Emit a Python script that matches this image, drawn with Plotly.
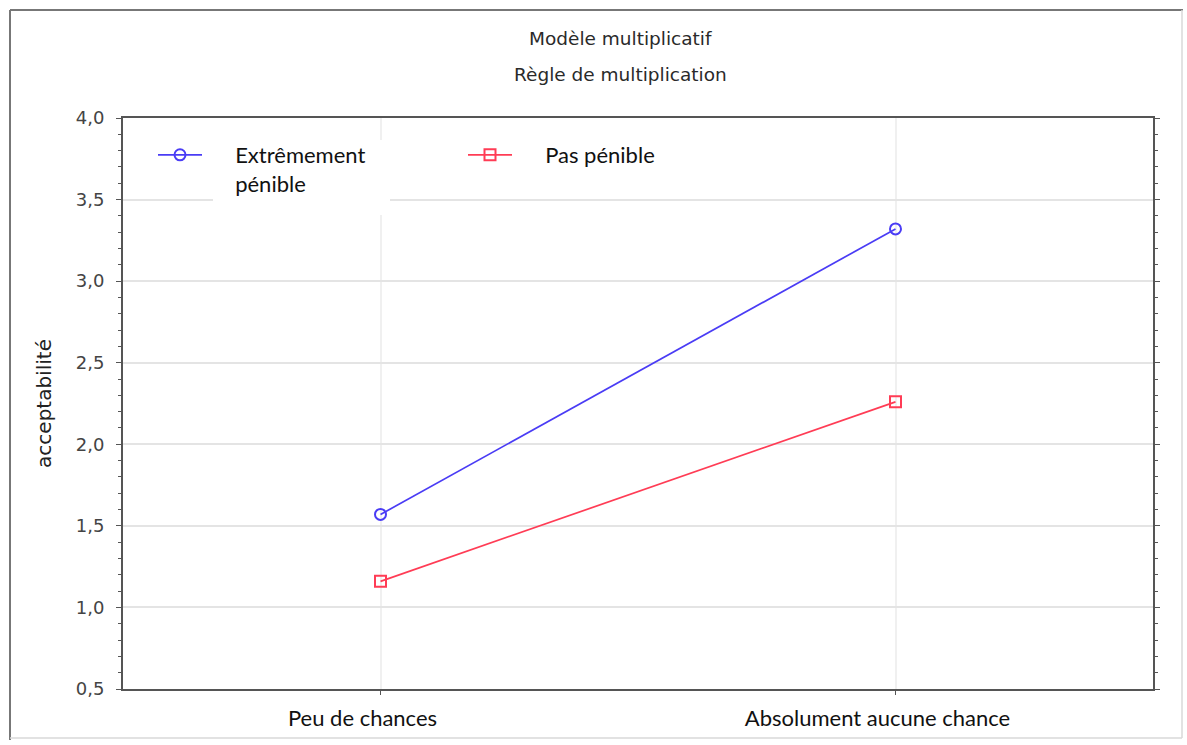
import plotly.graph_objects as go

categories = ["Peu de chances", "Absolument aucune chance"]
series_names = ["Extrêmement<br>pénible", "Pas pénible"]
extremement = [1.57, 3.32]
pas_penible = [1.16, 2.26]
y_ticks = [0.5, 1.0, 1.5, 2.0, 2.5, 3.0, 3.5, 4.0]

W, H = 1187, 745
L, R, T, B = 123, 1153, 118, 689

def px(x):
    return (x - L) / (R - L)

def py(y):
    return (B - y) / (B - T)

NB = "\u00a0" * 5

def pad(name):
    return "<br>".join(NB + part for part in name.split("<br>"))

fig = go.Figure()
fig.add_trace(go.Scatter(
    x=categories, y=extremement, name=pad(series_names[0]), mode="lines+markers",
    line=dict(color="#4a3cf5", width=1.7),
    marker=dict(symbol="circle-open", size=11, color="#4a3cf5", line=dict(width=2)),
))
fig.add_trace(go.Scatter(
    x=categories, y=pas_penible, name=pad(series_names[1]), mode="lines+markers",
    line=dict(color="#ff3c55", width=1.7),
    marker=dict(symbol="square-open", size=11, color="#ff3c55", line=dict(width=2)),
))

axis_line = "#555555"
sans = "DejaVu Sans, Liberation Sans, Arial, sans-serif"
cal = "Lato, sans-serif"
fig.update_layout(
    width=W, height=H,
    margin=dict(l=L, r=W - R, t=T, b=H - B),
    paper_bgcolor="white", plot_bgcolor="white",
    separators=", ",
    showlegend=True,
    legend=dict(
        orientation="h", x=px(153), y=py(134), xanchor="left", yanchor="top",
        bgcolor="rgba(0,0,0,0)", font=dict(family=cal, size=22, color="#111"),
        entrywidth=251, entrywidthmode="pixels", itemwidth=44, valign="top",
    ),
    xaxis=dict(
        type="category", range=[-0.5, 1.5],
        showline=True, linecolor=axis_line, linewidth=2, mirror=True,
        showgrid=True, gridcolor="#f0f0f0", gridwidth=2,
        ticks="outside", ticklen=4, tickcolor=axis_line,
        tickfont=dict(family=cal, size=22, color="#111"),
        ticklabelstandoff=5, ticklabelshift=-18,
        zeroline=False,
    ),
    yaxis=dict(
        range=[0.5, 4.0], tickvals=y_ticks, tickformat=".1f",
        showline=True, linecolor=axis_line, linewidth=2, mirror="ticks",
        showgrid=True, gridcolor="#e4e4e4", gridwidth=2,
        ticks="outside", ticklen=5, tickcolor=axis_line,
        minor=dict(dtick=0.1, ticks="outside", ticklen=3, tickcolor=axis_line, showgrid=False),
        tickfont=dict(family=sans, size=18, color="#444"),
        ticklabelstandoff=8,
        title=dict(text="acceptabilité", standoff=19,
                   font=dict(family=sans, size=20, color="#222")),
        zeroline=False,
    ),
    annotations=[
        dict(text="Modèle multiplicatif", xref="paper", yref="paper", x=px(620), y=py(38),
             showarrow=False, xanchor="center", yanchor="middle",
             font=dict(family=sans, size=18.5, color="#2a2a2a")),
        dict(text="Règle de multiplication", xref="paper", yref="paper", x=px(620), y=py(75),
             showarrow=False, xanchor="center", yanchor="middle",
             font=dict(family=sans, size=18.5, color="#2a2a2a")),
    ],
    shapes=[
        # white box behind the legend text, hiding the gridlines there
        dict(type="rect", xref="paper", yref="paper", x0=px(213), x1=px(390), y0=py(140), y1=py(215),
             fillcolor="white", line=dict(width=0), layer="above"),
        dict(type="line", xref="paper", yref="paper", x0=px(10), x1=px(10), y0=py(10), y1=py(740),
             line=dict(color="#777", width=2)),
        dict(type="line", xref="paper", yref="paper", x0=px(10), x1=px(1183), y0=py(10), y1=py(10),
             line=dict(color="#777", width=2)),
        dict(type="line", xref="paper", yref="paper", x0=px(1182), x1=px(1182), y0=py(10), y1=py(738),
             line=dict(color="#d8d8d8", width=1.5)),
        dict(type="line", xref="paper", yref="paper", x0=px(10), x1=px(1182), y0=py(738), y1=py(738),
             line=dict(color="#d8d8d8", width=1.5)),
    ],
)

fig.write_html("out.html", config={"displayModeBar": False},
               post_script="document.body.style.margin='0';")
